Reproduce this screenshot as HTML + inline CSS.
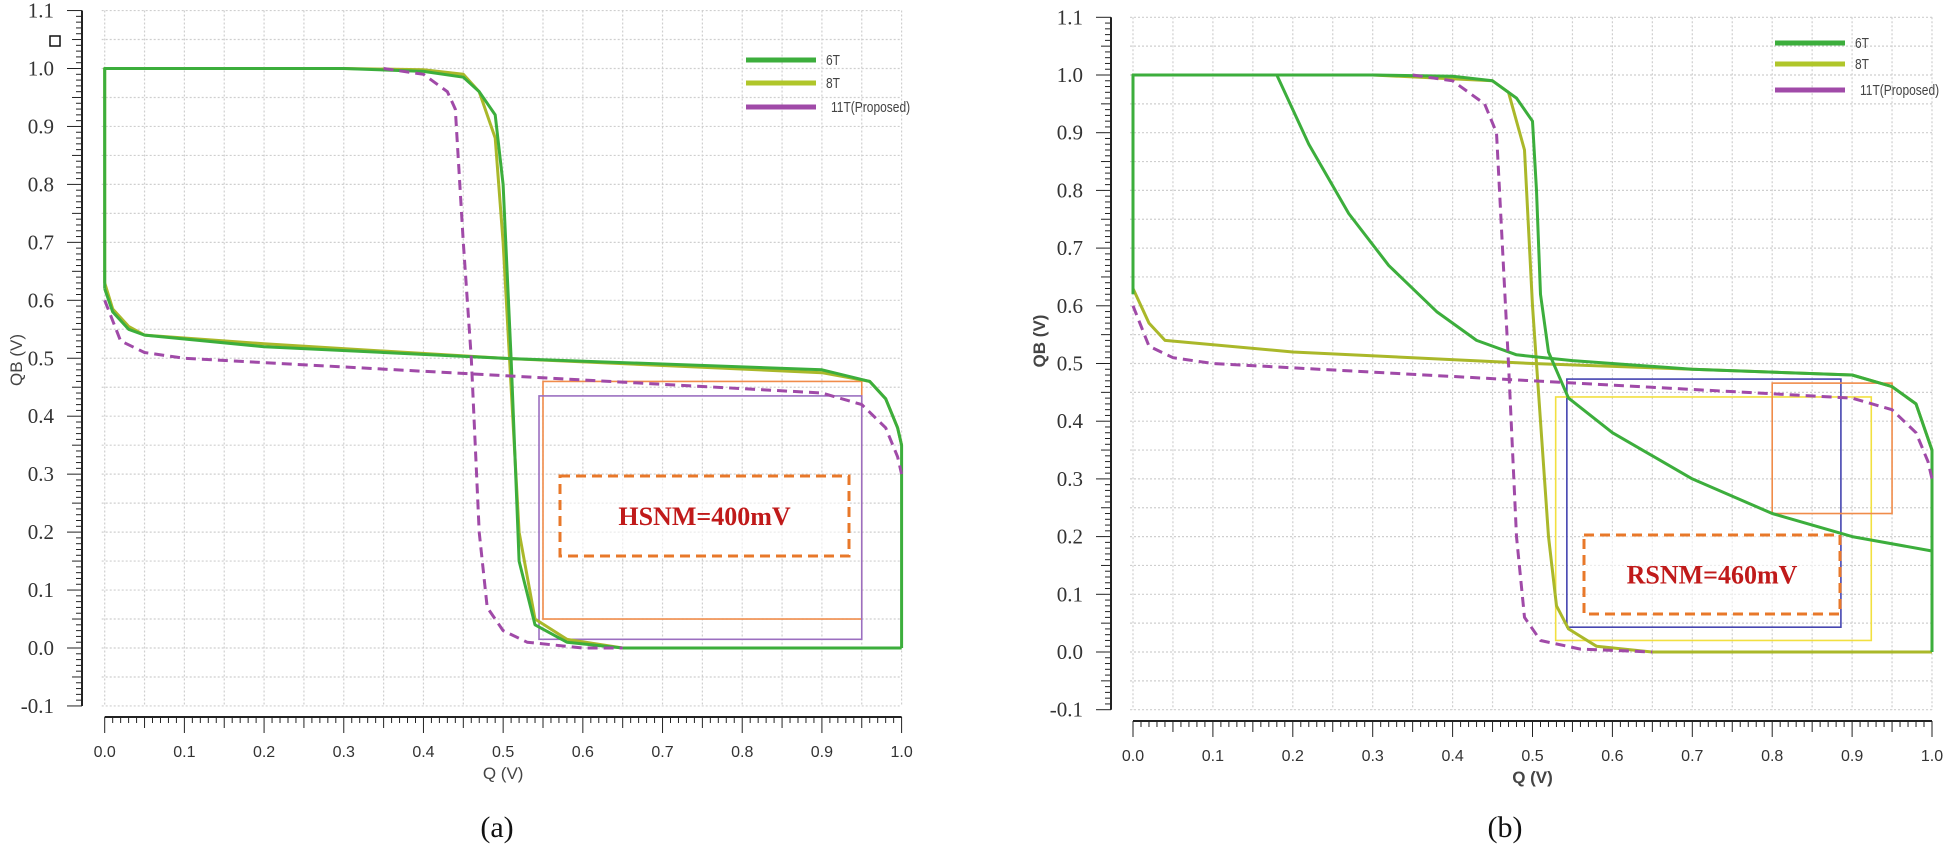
<!DOCTYPE html>
<html><head><meta charset="utf-8"><style>
html,body{margin:0;padding:0;background:#fff;}
svg{display:block;font-family:"Liberation Sans",sans-serif;}
</style></head><body>
<svg id="fig" width="1950" height="851" viewBox="0 0 1950 851" xmlns="http://www.w3.org/2000/svg">
<rect x="50" y="36" width="10" height="10" fill="none" stroke="#111" stroke-width="1.5"/>
<text x="497" y="837" font-family="Liberation Serif,serif" font-size="30" text-anchor="middle" fill="#111">(a)</text>
<text x="1505" y="837" font-family="Liberation Serif,serif" font-size="30" text-anchor="middle" fill="#111">(b)</text>
</svg>
<script>
// ---- data ----
const yTicks = [-0.1,0,0.1,0.2,0.3,0.4,0.5,0.6,0.7,0.8,0.9,1.0,1.1];
const xTicks = [0,0.1,0.2,0.3,0.4,0.5,0.6,0.7,0.8,0.9,1.0];
const legendLabels = ["6T","8T","11T(Proposed)"];
// left (a) hold curves
const a6T_q1 = [0,0,0.1,0.3,0.4,0.45,0.47,0.49,0.5,0.51,0.52,0.54,0.58,0.65,1.0];
const a6T_v1 = [0.62,1.0,1.0,1.0,0.995,0.985,0.96,0.92,0.8,0.5,0.15,0.04,0.01,0.0,0.0];
const a6T_q2 = [0,0.01,0.03,0.05,0.2,0.5,0.9,0.96,0.98,0.995,1.0,1.0];
const a6T_v2 = [0.62,0.58,0.55,0.54,0.52,0.5,0.48,0.46,0.43,0.38,0.35,0.0];
const a8T_q1 = [0,0,0.3,0.4,0.45,0.47,0.49,0.5,0.51,0.52,0.54,0.58,0.65,1.0];
const a8T_v1 = [0.63,1.0,1.0,0.998,0.99,0.96,0.88,0.7,0.45,0.2,0.05,0.015,0.0,0.0];
const a8T_q2 = [0,0.01,0.03,0.05,0.2,0.5,0.9,0.96,0.98,0.995,1.0];
const a8T_v2 = [0.63,0.585,0.555,0.54,0.525,0.5,0.475,0.46,0.43,0.38,0.35];
const a11T_q1 = [0.35,0.4,0.43,0.44,0.45,0.46,0.47,0.48,0.5,0.53,0.6,0.65];
const a11T_v1 = [1.0,0.99,0.96,0.93,0.7,0.5,0.2,0.07,0.03,0.01,0.0,0.0];
const a11T_q2 = [0,0.02,0.05,0.1,0.5,0.9,0.95,0.98,0.995,1.0];
const a11T_v2 = [0.6,0.53,0.51,0.5,0.47,0.44,0.42,0.38,0.33,0.3];
// right (b)
const b6T_q1 = [0.18,0.22,0.27,0.32,0.38,0.43,0.48,0.55,0.7,0.9,0.95,0.98,1.0,1.0];
const b6T_v1 = [1.0,0.88,0.76,0.67,0.59,0.54,0.515,0.505,0.49,0.48,0.46,0.43,0.35,0.0];
const b6T_q2 = [0,0,0.3,0.4,0.45,0.48,0.5,0.505,0.51,0.52,0.545,0.6,0.7,0.8,0.9,1.0];
const b6T_v2 = [0.62,1.0,1.0,0.998,0.99,0.96,0.92,0.8,0.62,0.52,0.44,0.38,0.3,0.24,0.2,0.175];
const b8T_q1 = [0,0,0.3,0.45,0.47,0.49,0.5,0.52,0.53,0.545,0.58,0.65,1.0];
const b8T_v1 = [0.63,1.0,1.0,0.99,0.97,0.87,0.6,0.2,0.08,0.04,0.01,0.0,0.0];
const b8T_q2 = [0,0.02,0.04,0.2,0.5,0.9,0.95,0.98,1.0];
const b8T_v2 = [0.63,0.57,0.54,0.52,0.5,0.48,0.46,0.43,0.35];
const b11T_q1 = [0.35,0.4,0.44,0.455,0.47,0.48,0.49,0.51,0.56,0.65];
const b11T_v1 = [1.0,0.99,0.95,0.9,0.5,0.2,0.06,0.02,0.005,0.0];
const b11T_q2 = [0,0.02,0.05,0.1,0.5,0.9,0.95,0.98,0.995,1.0];
const b11T_v2 = [0.6,0.53,0.51,0.5,0.47,0.44,0.42,0.38,0.33,0.3];
// SNM squares [q0,q1,v0,v1]
const aRectOrange = [0.55,0.95,0.05,0.46];
const aRectPurple = [0.545,0.95,0.015,0.435];
const bRectBlue = [0.543,0.886,0.043,0.473];
const bRectYellow = [0.529,0.924,0.02,0.442];
const bRectOrange = [0.8,0.95,0.24,0.466];

const NS="http://www.w3.org/2000/svg";
const svg=document.getElementById('fig');
function el(tag,attrs,parent){const e=document.createElementNS(NS,tag);for(const k in attrs)e.setAttribute(k,attrs[k]);(parent||svg).appendChild(e);return e;}

function chart(cfg){
  const g=el('g',{});
  
  
  const X=q=>cfg.x0+q*(cfg.x1-cfg.x0);
  const Y=v=>cfg.y0-v*(cfg.y0-cfg.y1);
  // grid
  for(let i=-2;i<=22;i++){
    const v=i*0.05;
    const l=el('line',{x1:X(0)-3,x2:X(1),y1:Y(v),y2:Y(v),stroke:'#cfcfcf','stroke-width':1.2,'stroke-dasharray':'2,2'},g);
    
    
  }
  for(let i=0;i<=20;i++){
    const q=i*0.05;
    const l=el('line',{x1:X(q),x2:X(q),y1:Y(1.1),y2:Y(-0.1),stroke:'#cfcfcf','stroke-width':1.2,'stroke-dasharray':'2,2'},g);
    
    
  }
  // y axis
  const ya=el('line',{x1:cfg.ax,x2:cfg.ax,y1:Y(1.1),y2:Y(-0.1),stroke:'#222','stroke-width':2},g);
  
  
  for(let i=-10;i<=110;i++){
    const len=i%10===0?15:(i%5===0?10:6);
    el('line',{x1:cfg.ax-len,x2:cfg.ax,y1:Y(i/100),y2:Y(i/100),stroke:'#222','stroke-width':1},g);
  }
  yTicks.forEach(t=>{
    const tx=el('text',{x:cfg.ax-28,y:Y(t)+7,'text-anchor':'end','font-family':'Liberation Serif,serif','font-size':21,fill:'#333'},g);
    tx.textContent=t.toFixed(1);
    
    
  });
  // x axis
  const xa=el('line',{x1:X(0),x2:X(1),y1:cfg.xay,y2:cfg.xay,stroke:'#222','stroke-width':2},g);
  
  
  for(let i=0;i<=100;i++){
    const len=i%10===0?16:(i%5===0?11:6);
    el('line',{x1:X(i/100),x2:X(i/100),y1:cfg.xay,y2:cfg.xay+len,stroke:'#222','stroke-width':1},g);
  }
  xTicks.forEach(t=>{
    const tx=el('text',{x:X(t),y:cfg.xay+40,'text-anchor':'middle','font-size':16,fill:'#333'},g);
    tx.textContent=t.toFixed(1);
    
    
  });
  const xt=el('text',{x:(X(0)+X(1))/2,y:cfg.xay+62,'text-anchor':'middle','font-size':17,fill:'#444','font-weight':cfg.bold?'bold':'normal'},g);
  xt.textContent='Q (V)';
  
  
  const yt=el('text',{x:0,y:0,'text-anchor':'middle','font-size':17,fill:'#444','font-weight':cfg.bold?'bold':'normal',transform:`translate(${cfg.ytx},${cfg.yty}) rotate(-90)`},g);
  yt.textContent='QB (V)';
  
  
  // rects
  cfg.rects.forEach(r=>{
    const d=r.d;
    const re=el('rect',{x:X(d[0]),y:Y(d[3]),width:X(d[1])-X(d[0]),height:Y(d[2])-Y(d[3]),fill:'none',stroke:r.c,'stroke-width':1.6},g);
    
    
  });
  // curves
  cfg.curves.forEach(c=>{
    const pts=c.q.map((q,i)=>X(q).toFixed(1)+','+Y(c.v[i]).toFixed(1)).join(' ');
    const p=el('polyline',{points:pts,fill:'none',stroke:c.c,'stroke-width':c.w||3,'stroke-linejoin':'round','stroke-dasharray':c.dash||'none'},g);
    
    
  });
  // annotation
  const a=cfg.ann;
  const ab=el('rect',{x:a.x,y:a.y,width:a.w,height:a.h,fill:'#fff','fill-opacity':0.6,stroke:'#e8782a','stroke-width':3,'stroke-dasharray':'10,6'},g);
  
  
  const at=el('text',{x:a.x+a.w/2,y:a.y+a.h/2+9,'text-anchor':'middle','font-family':'Liberation Serif,serif','font-weight':'bold','font-size':26,fill:'#c01a1a'},g);
  at.textContent=a.t;
  
  
  // legend
  const cols=['#3cae3c','#b0c62a','#a04aa8'];
  legendLabels.forEach((lab,i)=>{
    const ly=cfg.ly[i];
    const ll=el('line',{x1:cfg.lx,x2:cfg.lx+70,y1:ly,y2:ly,stroke:cols[i],'stroke-width':5},g);
    
    
    const lt=el('text',{x:0,y:0,'font-size':15,fill:'#444',transform:`translate(${cfg.lx+80+(i==2?5:0)},${ly+5}) scale(0.8,1)`},g);
    lt.textContent=lab;
    
    
  });
}

const G6='#3cae3c', G8='#aab82a', P='#a04aa8';
chart({name:'chart-a-hsnm',x0:104.7,x1:901.6,y0:648,y1:68.5,ax:82,xay:717,ytx:22,yty:360,bold:false,
  lx:746,ly:[60,83,107],
  rects:[{d:aRectOrange,c:'#f08c4a',n:'snm-square-orange'},{d:aRectPurple,c:'#9b6fc0',n:'snm-square-purple'}],
  curves:[
    {q:a8T_q1,v:a8T_v1,c:G8,n:'curve-8t-a'},{q:a8T_q2,v:a8T_v2,c:G8,n:'curve-8t-b'},
    {q:a6T_q1,v:a6T_v1,c:G6,n:'curve-6t-a'},{q:a6T_q2,v:a6T_v2,c:G6,n:'curve-6t-b'},
    {q:a11T_q1,v:a11T_v1,c:P,n:'curve-11t-a',dash:'10,6'},{q:a11T_q2,v:a11T_v2,c:P,n:'curve-11t-b',dash:'10,6'}],
  ann:{x:560,y:476,w:289,h:80,t:'HSNM=400mV'}});
chart({name:'chart-b-rsnm',x0:1133,x1:1932,y0:652,y1:75,ax:1111,xay:721,ytx:1045,yty:341,bold:true,
  lx:1775,ly:[43,64,90],
  rects:[{d:bRectBlue,c:'#4444b0',n:'snm-square-blue'},{d:bRectYellow,c:'#f2e040',n:'snm-square-yellow'},{d:bRectOrange,c:'#f08c4a',n:'snm-square-orange'}],
  curves:[
    {q:b8T_q1,v:b8T_v1,c:G8,n:'curve-8t-a'},{q:b8T_q2,v:b8T_v2,c:G8,n:'curve-8t-b'},
    {q:b6T_q1,v:b6T_v1,c:G6,n:'curve-6t-a'},{q:b6T_q2,v:b6T_v2,c:G6,n:'curve-6t-b'},
    {q:b11T_q1,v:b11T_v1,c:P,n:'curve-11t-a',dash:'10,6'},{q:b11T_q2,v:b11T_v2,c:P,n:'curve-11t-b',dash:'10,6'}],
  ann:{x:1584,y:535,w:256,h:79,t:'RSNM=460mV'}});
</script>
</body></html>
